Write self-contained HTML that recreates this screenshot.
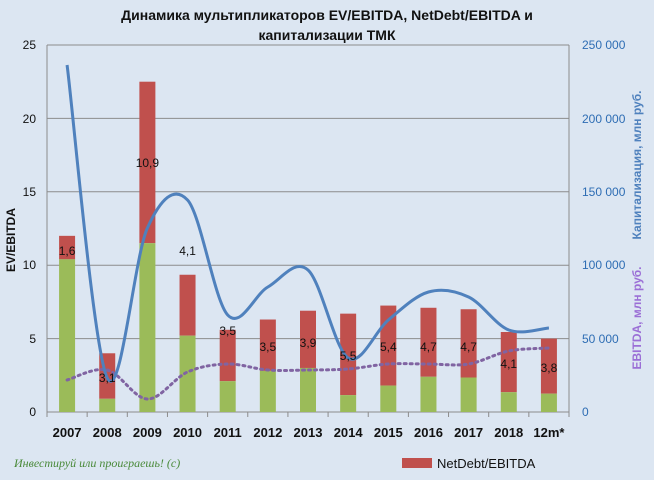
<!DOCTYPE html>
<html><head><meta charset="utf-8"><style>
body{margin:0;background:#dce6f2;}
svg{display:block;font-family:"Liberation Sans",sans-serif;}
</style></head><body>
<svg id="s" width="654" height="480" viewBox="0 0 654 480">
<rect width="654" height="480" fill="#dce6f2"/>
<text x="327" y="20" text-anchor="middle" font-size="14" font-weight="bold" fill="#111">Динамика мультипликаторов  EV/EBITDA,  NetDebt/EBITDA и</text>
<text x="327" y="40" text-anchor="middle" font-size="14" font-weight="bold" fill="#111">капитализации ТМК</text>
<g id="grid" stroke="#8c8c8c" stroke-width="1"></g>
<g id="bars"></g>
<g id="lines"></g>
<g id="labs" font-size="12" fill="#111" text-anchor="middle"></g>
<g font-size="12" fill="#111" text-anchor="end">
<text x="36" y="416">0</text><text x="36" y="343">5</text><text x="36" y="269">10</text><text x="36" y="196">15</text><text x="36" y="123">20</text><text x="36" y="49">25</text>
</g>
<g font-size="12" fill="#2e6db4">
<text x="582" y="416">0</text><text x="582" y="343">50 000</text><text x="582" y="269">100 000</text><text x="582" y="196">150 000</text><text x="582" y="123">200 000</text><text x="582" y="49">250 000</text>
</g>
<text transform="translate(15,240) rotate(-90)" text-anchor="middle" font-size="12" font-weight="bold" fill="#111">EV/EBITDA</text>
<text transform="translate(641,165) rotate(-90)" text-anchor="middle" font-size="12" font-weight="bold" fill="#4f81bd">Капитализация, млн руб.</text>
<text transform="translate(641,318) rotate(-90)" text-anchor="middle" font-size="12" font-weight="bold" fill="#9b6fd6">EBITDA, млн руб.</text>
<g id="xl" font-size="13" font-weight="bold" fill="#111" text-anchor="middle"></g>
<text x="14" y="467" font-size="12" font-style="italic" fill="#4a8a3a" font-family="'Liberation Serif',serif">Инвестируй или проиграешь! (с)</text>
<rect x="402" y458" width="0" height="0"/>
<rect x="402" y="458" width="30" height="10" fill="#c0504d"/>
<text x="437" y="468" font-size="13" fill="#111">NetDebt/EBITDA</text>
</svg>
<script>
const ns="http://www.w3.org/2000/svg";
function el(p,t,a,txt){const e=document.createElementNS(ns,t);for(const k in a)e.setAttribute(k,a[k]);if(txt)e.textContent=txt;document.getElementById(p).appendChild(e);}
const x0=47,x1=569,y0=412,k=14.68,cw=(x1-x0)/13;
for(let i=0;i<=5;i++){const y=412-i*73.4;el("grid","line",{x1:x0,x2:x1,y1:y,y2:y});}
el("grid","line",{x1:x0,x2:x0,y1:45,y2:412});el("grid","line",{x1:x1,x2:x1,y1:45,y2:412});
for(let i=0;i<=13;i++){const x=x0+i*cw;el("grid","line",{x1:x,x2:x,y1:412,y2:417});}
const cats=["2007","2008","2009","2010","2011","2012","2013","2014","2015","2016","2017","2018","12m*"];
const g=[10.4,0.9,11.5,5.2,2.1,2.8,3.0,1.15,1.8,2.4,2.35,1.35,1.25];
const t=[12,4,22.5,9.35,5.6,6.3,6.9,6.7,7.25,7.1,7.0,5.45,5.0];
const lab=["1,6","3,1","10,9","4,1","3,5","3,5","3,9","5,5","5,4","4,7","4,7","4,1","3,8"];
const ly=[255,382,167,255,335,351,347,360,351,351,351,368,372];
cats.forEach((c,i)=>{const cx=x0+cw*(i+0.5);
el("bars","rect",{x:cx-8,y:y0-t[i]*k,width:16,height:(t[i]-g[i])*k,fill:"#c0504d"});
el("bars","rect",{x:cx-8,y:y0-g[i]*k,width:16,height:g[i]*k,fill:"#9bbb59"});
el("labs","text",{x:cx,y:ly[i]},lab[i]);
el("xl","text",{x:cx,y:437},c);});
function cr(pts){let d="M"+pts[0].join(",");for(let i=0;i<pts.length-1;i++){const p0=pts[Math.max(i-1,0)],p1=pts[i],p2=pts[i+1],p3=pts[Math.min(i+2,pts.length-1)];
d+=` C${p1[0]+(p2[0]-p0[0])/6},${p1[1]+(p2[1]-p0[1])/6} ${p2[0]-(p3[0]-p1[0])/6},${p2[1]-(p3[1]-p1[1])/6} ${p2[0]},${p2[1]}`;}return d;}
const bl=[65,378,228,200,315,287,270,358,320,292,297,330,328];
const pl=[380,370,399,372,364,370,370,369,364,364,364,351,348];
el("lines","path",{d:cr(pl.map((y,i)=>[x0+cw*(i+0.5),y])),fill:"none",stroke:"#8064a2",'stroke-width':3,'stroke-dasharray':"2,4",'stroke-linecap':"round"});
el("lines","path",{d:cr(bl.map((y,i)=>[x0+cw*(i+0.5),y])),fill:"none",stroke:"#4f81bd",'stroke-width':3});
</script>
</body></html>
